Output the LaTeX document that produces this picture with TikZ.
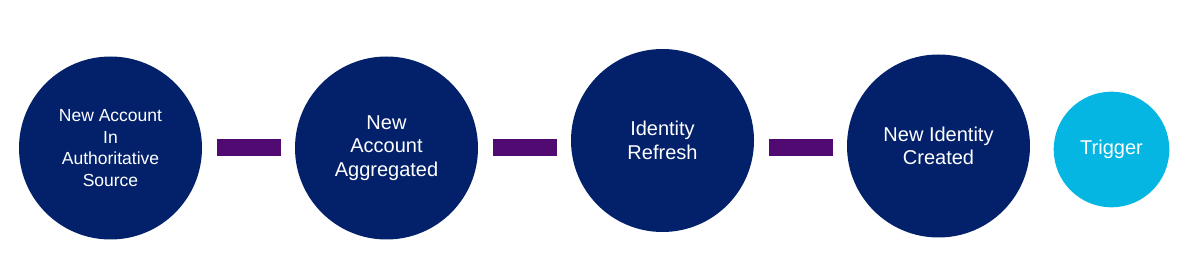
\documentclass[tikz,border=0pt]{standalone}
\usepackage{fontspec}
\setmainfont{Liberation Sans}
\usepackage{tikz}
\usetikzlibrary{calc}
\definecolor{cNavy}{HTML}{03216A}
\definecolor{cBar} {HTML}{510A72}
\definecolor{cSky} {HTML}{05B5E2}

\begin{document}
\begin{tikzpicture}[x=1pt,y=1pt,
    stage/.style={circle,fill=cNavy,text=white,align=center,inner sep=0pt,
      minimum size=183pt,font=\fontsize{20}{23.5}\selectfont},
    link/.style={draw=cBar,line width=17pt,shorten <=15pt,shorten >=14pt}]
        \useasboundingbox (0,0) rectangle (1192,259); % canvas
        \node[stage,font=\fontsize{17.5}{21.5}\selectfont] (source) at (110.5,111) {New Account\\In\\Authoritative\\Source};
        \node[stage] (aggregated) at (386.5,111)   {New\\Account\\Aggregated};
        \node[stage] (refresh)    at (662.5,118.5) {Identity\\Refresh};
        \node[stage] (created)    at (938.5,113)   {New Identity\\Created};
        \node[stage,fill=cSky,minimum size=115.6pt] (trigger) at (1111.5,109.5) {Trigger}; % no link
        \draw[link] (source.east) -- (source.east -| aggregated.west);
        \draw[link] (aggregated.east) -- (aggregated.east -| refresh.west);
        \draw[link] (refresh.east |- aggregated.east) -- (aggregated.east -| created.west); % bars stay level
      \end{tikzpicture}
\end{document}
